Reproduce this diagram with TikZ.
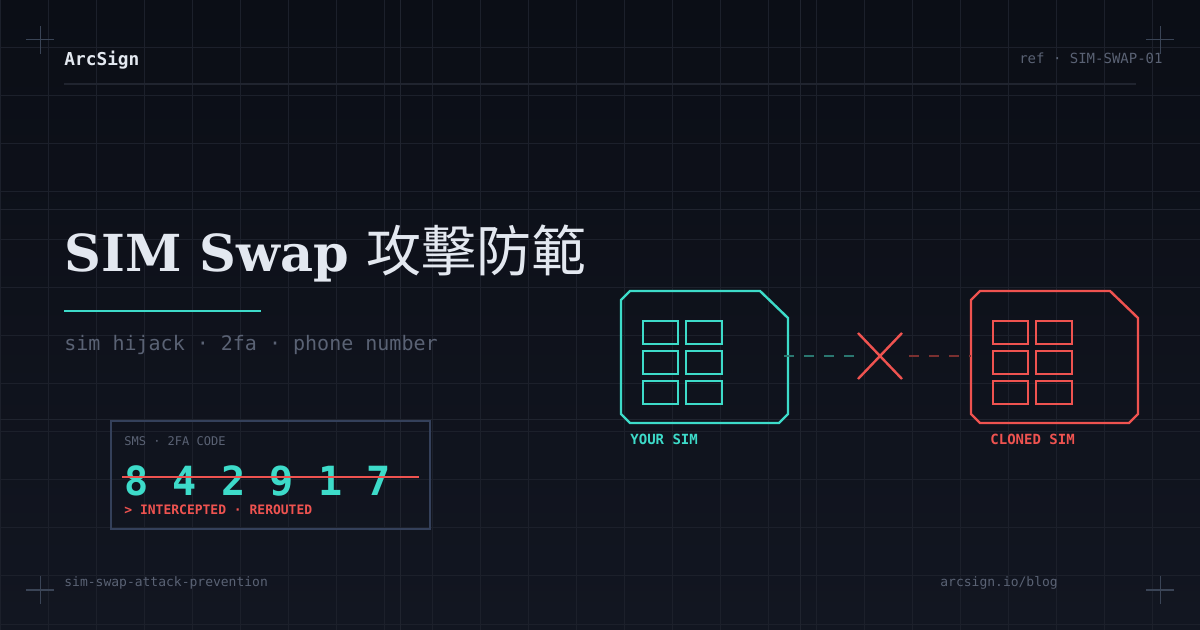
\documentclass[tikz,border=0pt]{standalone}
\usepackage{fontspec}
\setmainfont{DejaVu Serif}
\setmonofont{DejaVu Sans Mono}
\newfontfamily\cjk{Noto Sans CJK TC}
\usetikzlibrary{positioning}
\definecolor{bgTop}{HTML}{0B0E16}
\definecolor{bgBot}{HTML}{121621}
\definecolor{gridC}{HTML}{1C202B}
\definecolor{gridD}{HTML}{20242F}
\definecolor{crossC}{HTML}{3A4456}
\definecolor{txtW}{HTML}{E3E8F0}
\definecolor{txtG}{HTML}{5A6274}
\definecolor{colorT}{HTML}{3DDBC9}
\definecolor{colorR}{HTML}{EF5350}
\definecolor{dimT}{HTML}{2A7770}
\definecolor{dimR}{HTML}{7A3030}
\definecolor{boxC}{HTML}{34405A}
\tikzset{
  lbl/.style={inner sep=0pt, anchor=base west, font=\ttfamily},
  pad/.style={line width=1pt},
  cross/.style={crossC, line width=0.5pt},
}
\newcommand{\simcard}[3]{% x offset, colour, name
  \begin{scope}[xshift=#1*0.5pt]
    \draw[#2, line width=1.2pt] (621,300) -- (630,291) -- (760,291) -- (788,318) -- (788,414) -- (779,423) -- (630,423) -- (621,414) -- cycle;
    \foreach \r in {321,351,381}{
      \draw[#2, pad] (643,\r) rectangle (678,\r+23);
      \draw[#2, pad] (686,\r) rectangle (722,\r+23);
    }
    \coordinate (#3W) at (621,356);
    \coordinate (#3E) at (784,356);
  \end{scope}}
\begin{document}
\begin{tikzpicture}[x=0.5pt, y=-0.5pt]
  \shade[top color=bgTop, bottom color=bgBot] (0,0) rectangle (1200,630);
  \useasboundingbox (0,0) rectangle (1200,630);
  % grid
  \foreach \i in {0,48,...,1200} \draw[gridC, line width=0.5pt] (\i,0) -- (\i,630);
  \foreach \j in {0,48,...,630} \draw[gridC, line width=0.5pt] (0,\j) -- (1200,\j);
  \foreach \i in {400,800} \draw[gridD, line width=0.5pt] (\i,0) -- (\i,630);
  \foreach \j in {210,420} \draw[gridD, line width=0.5pt] (0,\j) -- (1200,\j);
  % corner marks
  \foreach \cx/\cy in {40/40,1160/40,40/590,1160/590}
    \draw[cross] (\cx-14,\cy) -- (\cx+14,\cy) (\cx,\cy-14) -- (\cx,\cy+14);

  % header
  \node[lbl, txtW, font=\ttfamily\bfseries\fontsize{8.9}{10}\selectfont] (brand) at (64,66) {ArcSign};
  \node[lbl, anchor=base east, txtG, font=\ttfamily\fontsize{7}{9}\selectfont] (ref) at (1163,64) {ref · SIM-SWAP-01};
  \draw[gridD, line width=0.6pt] (64,84) -- (1136,84);

  % title
  \node[inner sep=0pt, anchor=base west, txtW, font=\bfseries\fontsize{25.5}{30}\selectfont] (title) at (64,272) {SIM Swap {\cjk\mdseries\fontsize{27.5}{30}\selectfont 攻擊防範}};
  \draw[colorT, line width=1.2pt] (64,311) -- (261,311);
  \node[lbl, txtG, font=\ttfamily\fontsize{10}{12}\selectfont] (tags) at (64,351) {sim hijack · 2fa · phone number};

  % sms box
  \draw[boxC, line width=1pt] (111,421) rectangle (430,529);
  \node[lbl, txtG, font=\ttfamily\fontsize{6}{7}\selectfont] (smslbl) at (124,446) {SMS · 2FA CODE};
  \node[lbl, colorT, font=\ttfamily\bfseries\fontsize{20.1}{24}\selectfont] (code) at (124,496) {8 4 2 9 1 7};
  \draw[colorR, line width=1pt] (122,477) -- (419,477);
  \node[lbl, colorR, font=\ttfamily\bfseries\fontsize{6.5}{8}\selectfont] (status) at (124,515) {> INTERCEPTED · REROUTED};

  % sim cards
  \simcard{0}{colorT}{your}
  \simcard{350}{colorR}{clone}
  \node[lbl, colorT, font=\ttfamily\bfseries\fontsize{7}{8}\selectfont] (yourlbl) at (630,445) {YOUR SIM};
  \node[lbl, colorR, font=\ttfamily\bfseries\fontsize{7}{8}\selectfont] (clonelbl) at (990,445) {CLONED SIM};

  % broken link
  \coordinate (xc) at (880,356);
  \draw[dimT, line width=1.2pt, dash pattern=on 5pt off 5pt] (yourE) -- (854,356);
  \draw[dimR, line width=1.2pt, dash pattern=on 5pt off 5pt] (909,356) -- (cloneW);
  \draw[colorR, line width=1.2pt] ([shift={(-22,-23)}]xc) -- ([shift={(22,23)}]xc)
                                   ([shift={(22,-23)}]xc) -- ([shift={(-22,23)}]xc);

  % footer
  \node[lbl, txtG, font=\ttfamily\fontsize{6.5}{8}\selectfont] (slug) at (64,587) {sim-swap-attack-prevention};
  \node[lbl, txtG, font=\ttfamily\fontsize{6.5}{8}\selectfont] (url) at (940,587) {arcsign.io/blog};
\end{tikzpicture}
\end{document}
